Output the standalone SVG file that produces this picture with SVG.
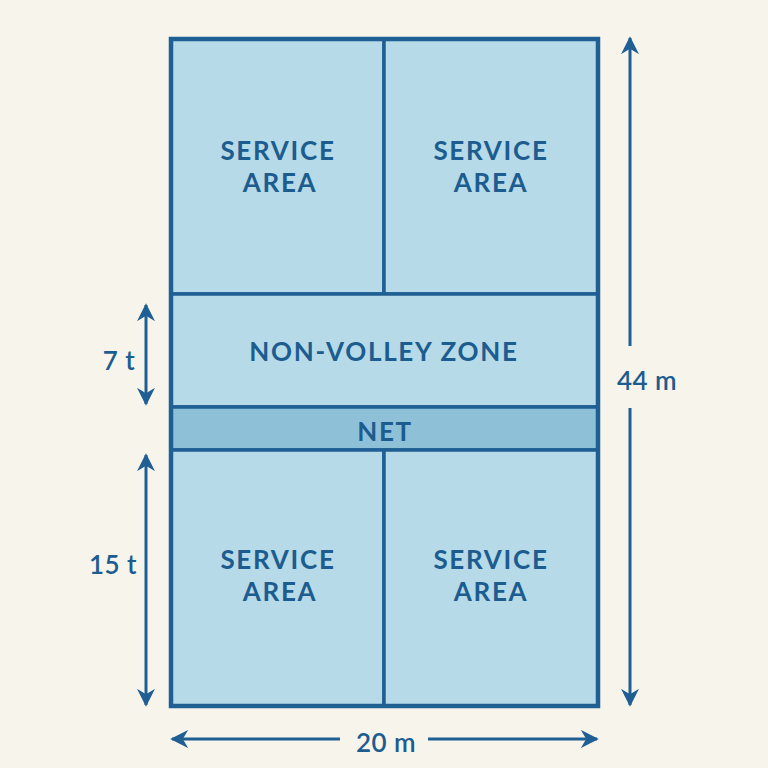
<svg xmlns="http://www.w3.org/2000/svg" width="768" height="768" viewBox="0 0 768 768">
<defs>
<marker id="ah" viewBox="0 0 10 10" refX="9" refY="5" markerWidth="6" markerHeight="6" orient="auto-start-reverse" markerUnits="strokeWidth">
<path d="M0,0 L10,5 L0,10 L3,5 Z" fill="#1F5F94"/>
</marker>
<style>
.area{fill:#B6DAE7;stroke:#1F5F94;stroke-width:3.5;stroke-linejoin:round}
.outer{fill:none;stroke:#1F5F94;stroke-width:4.5}
.net{fill:#8EC0D8;stroke:#1F5F94;stroke-width:3.5}
.lbl{font-family:Lato,"Noto Sans","DejaVu Sans",sans-serif;font-weight:700;fill:#1C5C8F;text-anchor:middle;letter-spacing:1.7px}
.big{font-size:26px}
.dim{font-family:Lato,"Noto Sans","DejaVu Sans",sans-serif;font-weight:600;fill:#1C5C8F;font-size:26px;text-anchor:middle;letter-spacing:0.5px}
.arr{stroke:#1F5F94;stroke-width:3;fill:none}
</style>
</defs>
<rect width="768" height="768" fill="#F7F5EB"/>
<g id="service-top-left">
<rect x="171" y="39" width="213" height="255" class="area"/>
<text x="278" y="160" class="lbl big">SERVICE</text>
<text x="280" y="192" class="lbl big">AREA</text>
</g>
<g id="service-top-right">
<rect x="384" y="39" width="214" height="255" class="area"/>
<text x="491" y="160" class="lbl big">SERVICE</text>
<text x="491" y="192" class="lbl big">AREA</text>
</g>
<g id="non-volley-zone">
<rect x="171" y="294" width="427" height="113" class="area"/>
<text x="384" y="361" class="lbl big">NON-VOLLEY ZONE</text>
</g>
<g id="net">
<rect x="171" y="407" width="427" height="43" class="net"/>
<text x="385" y="441" class="lbl" font-size="26">NET</text>
</g>
<g id="service-bottom-left">
<rect x="171" y="450" width="213" height="256" class="area"/>
<text x="278" y="569" class="lbl big">SERVICE</text>
<text x="280" y="601" class="lbl big">AREA</text>
</g>
<g id="service-bottom-right">
<rect x="384" y="450" width="214" height="256" class="area"/>
<text x="491" y="569" class="lbl big">SERVICE</text>
<text x="491" y="601" class="lbl big">AREA</text>
</g>
<g id="court">
<rect x="171" y="39" width="427" height="667" class="outer"/>
</g>
<g id="connectors">
<line x1="146" y1="305" x2="146" y2="404" class="arr" marker-start="url(#ah)" marker-end="url(#ah)"/>
<line x1="146" y1="455" x2="146" y2="705" class="arr" marker-start="url(#ah)" marker-end="url(#ah)"/>
<line x1="630" y1="38" x2="630" y2="346" class="arr" marker-start="url(#ah)"/>
<line x1="630" y1="408" x2="630" y2="705" class="arr" marker-end="url(#ah)"/>
<line x1="172" y1="739" x2="340" y2="739" class="arr" marker-start="url(#ah)"/>
<line x1="428" y1="739" x2="597" y2="739" class="arr" marker-end="url(#ah)"/>
</g>
<g id="dimension-labels">
<text x="119" y="370" class="dim">7 t</text>
<text x="113" y="574" class="dim">15 t</text>
<text x="647" y="390" class="dim">44 m</text>
<text x="386" y="752" class="dim">20 m</text>
</g>
</svg>
